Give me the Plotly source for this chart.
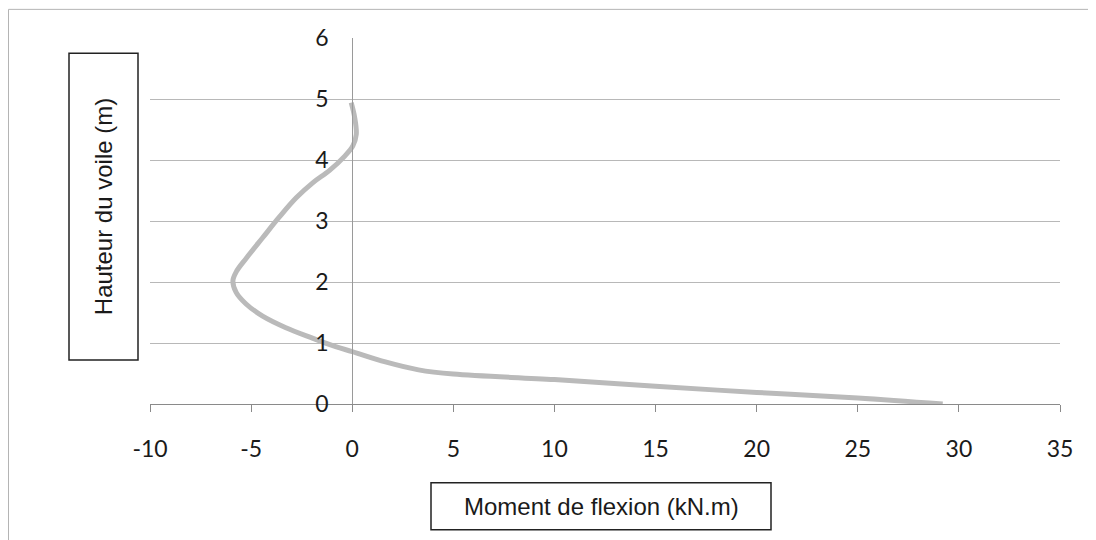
import plotly.graph_objects as go

# Data (moment kN.m vs height m)
hauteur = [4.94, 4.70, 4.42, 4.23, 4.06, 3.83, 3.63, 3.38, 3.07, 2.73, 2.39, 2.17, 2.02,
           1.83, 1.64, 1.44, 1.25, 1.08, 0.94, 0.86, 0.69, 0.56, 0.49, 0.40, 0.29, 0.19, 0.10, 0.0]
moment = [-0.05, 0.12, 0.20, 0.03, -0.38, -1.12, -1.94, -2.77, -3.59, -4.42, -5.24, -5.73, -5.90,
          -5.74, -5.25, -4.43, -3.28, -1.97, -0.82, 0.0, 1.64, 3.28, 5.0, 10.0, 15.0, 20.0, 25.0, 29.2]

x_ticks = [-10, -5, 0, 5, 10, 15, 20, 25, 30, 35]
y_ticks = [0, 1, 2, 3, 4, 5, 6]

OFF = 8  # default page body margin
W, H = 1096 - OFF, 540 - OFF
L, T = 150 - OFF, 38 - OFF
R = 1096 - 1060
B = 540 - 396
PW, PH = W - L - R, H - T - B

def px(x):
    return (x - OFF - L) / PW

def py(y):
    return (T + PH - (y - OFF)) / PH

fig = go.Figure()
fig.add_trace(go.Scatter(
    x=moment, y=hauteur, mode="lines",
    line=dict(color="#bababa", width=5, shape="spline", smoothing=1.0),
    hoverinfo="x+y", showlegend=False,
))

tick_font = dict(family="Lato, Calibri, sans-serif", size=23, color="#1a1a1a")
title_font = dict(family="Liberation Sans, Arial, sans-serif", size=24, color="#1a1a1a")

fig.update_layout(
    width=W, height=H,
    margin=dict(l=L, r=R, t=T, b=B - OFF),
    paper_bgcolor="white", plot_bgcolor="white",
    xaxis=dict(
        range=[-10, 35], tickvals=x_ticks, ticktext=[str(v) for v in x_ticks],
        showgrid=False, zeroline=False,
        showline=True, linecolor="#8a8a8a", linewidth=1,
        ticks="outside", ticklen=7, tickcolor="#8a8a8a", tickwidth=1,
        ticklabelstandoff=17,
        tickfont=tick_font,
    ),
    yaxis=dict(
        range=[0, 6], tickvals=y_ticks, ticktext=[str(v) for v in y_ticks],
        anchor="free", position=(0 - (-10)) / (35 - (-10)),
        showgrid=True, gridcolor="#b8b8b8", gridwidth=1,
        zeroline=False,
        showline=True, linecolor="#9a9a9a", linewidth=1,
        ticks="", ticklabelstandoff=19,
        tickfont=tick_font,
    ),
    shapes=[
        # outer chart frame (top and left edges visible)
        dict(type="line", xref="paper", yref="paper", x0=px(8.5), x1=px(1100), y0=py(10), y1=py(10),
             line=dict(color="#b4b4b4", width=1)),
        dict(type="line", xref="paper", yref="paper", x0=px(8.5), x1=px(8.5), y0=py(10), y1=py(545),
             line=dict(color="#b4b4b4", width=1)),
        # y-axis title box
        dict(type="rect", xref="paper", yref="paper", x0=px(69), x1=px(138), y0=py(53), y1=py(353),
             line=dict(color="#222222", width=1.5), fillcolor="rgba(0,0,0,0)"),
        # x-axis title box
        dict(type="rect", xref="paper", yref="paper", x0=px(431), x1=px(771), y0=py(473), y1=py(519),
             line=dict(color="#222222", width=1.5), fillcolor="rgba(0,0,0,0)"),
    ],
    annotations=[
        dict(text="Hauteur du voile (m)", xref="paper", yref="paper", x=px(103.5), y=py(203),
             textangle=-90, showarrow=False, font=title_font, xanchor="center", yanchor="middle"),
        dict(text="Moment de flexion (kN.m)", xref="paper", yref="paper", x=px(601), y=py(496),
             showarrow=False, font=title_font, xanchor="center", yanchor="middle"),
    ],
)

fig.write_html("out.html")
